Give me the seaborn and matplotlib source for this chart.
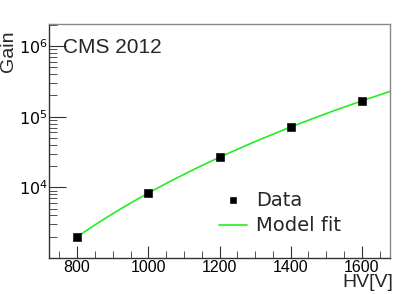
import numpy as np
import pandas as pd
import seaborn as sns
import matplotlib.pyplot as plt
from matplotlib.ticker import LogLocator, MultipleLocator, FixedLocator

hv = [800, 1000, 1200, 1400, 1600]
gain = [2000, 8200, 26800, 72000, 166000]

sns.set_style("ticks")
plt.rcParams['font.family'] = ['Liberation Sans', 'DejaVu Sans']

df = pd.DataFrame({"HV": hv, "Gain": gain})

# power-law fit: log10(G) = k*log10(V) + c
k, c = np.polyfit(np.log10(hv), np.log10(gain), 1)
hv_fit = np.linspace(800, 1680, 200)
fit = pd.DataFrame({"HV": hv_fit, "Gain": 10 ** (k * np.log10(hv_fit) + c)})

W, H = 407, 294
fig = plt.figure(figsize=(W / 100, H / 100), dpi=100)
ax = fig.add_axes([49 / W, 36 / H, 341 / W, 234 / H])

sns.lineplot(data=fit, x="HV", y="Gain", ax=ax, color="#22ee22", lw=1.2, label="Model fit")
sns.scatterplot(data=df, x="HV", y="Gain", ax=ax, marker="s", s=30, color="black",
                edgecolor="black", label="Data", zorder=3)

ax.set_yscale("log")
ax.set_xlim(721, 1679)
ax.set_ylim(1e3, 2.05e6)

ax.xaxis.set_major_locator(FixedLocator([800, 1000, 1200, 1400, 1600]))
ax.xaxis.set_minor_locator(MultipleLocator(50))
ax.yaxis.set_major_locator(FixedLocator([1e4, 1e5, 1e6]))
ax.yaxis.set_minor_locator(LogLocator(base=10, subs=np.arange(2, 10)))
ax.set_yticklabels([r"$10^{4}$", r"$10^{5}$", r"$10^{6}$"])
ax.tick_params(which="both", direction="in", labelsize=11.5, color="#333333",
               labelcolor="black")
ax.tick_params(which="major", length=9)
ax.tick_params(which="minor", length=5)
ax.tick_params(axis="x", which="major", pad=1.5)
ax.tick_params(axis="y", which="major", length=12, pad=1)
ax.tick_params(axis="y", which="minor", length=6)

for s in ["left", "bottom"]:
    ax.spines[s].set_color("#333333")
for s in ["top", "right"]:
    ax.spines[s].set_visible(True)
    ax.spines[s].set_color("#888888")
for s in ax.spines.values():
    s.set_linewidth(1.0)

ax.set_xlabel("")
ax.set_ylabel("")
fig.text(393 / W, 1 - 274 / H, "HV[V]", fontsize=14, ha="right", va="top")
fig.text(9 / W, 1 - 31 / H, "Gain", fontsize=14, rotation=90, ha="center", va="top")
ax.text(0.04, 0.9, "CMS 2012", transform=ax.transAxes, fontsize=15, va="center")

h, l = ax.get_legend_handles_labels()
ax.legend(h[::-1], l[::-1], loc="lower left", bbox_to_anchor=(0.448, 0.022), frameon=False,
          prop={"family": "DejaVu Sans", "size": 14}, handlelength=1.45, handletextpad=0.45,
          labelspacing=0.35, markerscale=0.8)

fig.savefig("out.png", dpi=100)
